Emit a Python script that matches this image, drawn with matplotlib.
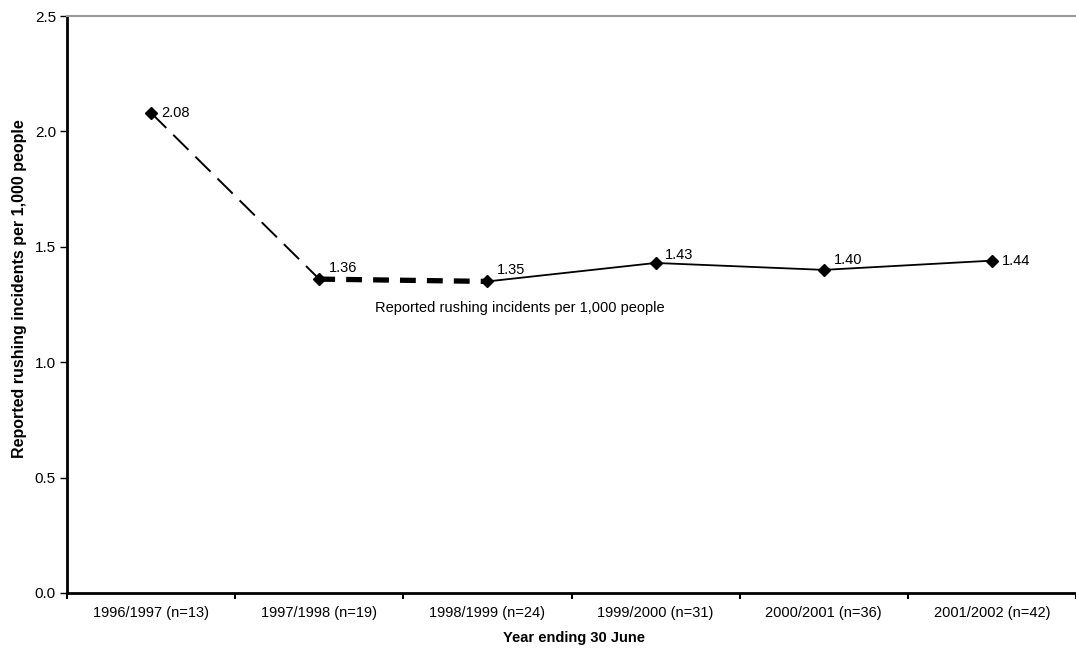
import matplotlib.pyplot as plt

plt.rcParams['font.family'] = ['Liberation Sans', 'DejaVu Sans']

years = ['1996/1997 (n=13)', '1997/1998 (n=19)', '1998/1999 (n=24)',
         '1999/2000 (n=31)', '2000/2001 (n=36)', '2001/2002 (n=42)']
rates = [2.08, 1.36, 1.35, 1.43, 1.40, 1.44]
rate_labels = ['2.08', '1.36', '1.35', '1.43', '1.40', '1.44']
series_name = 'Reported rushing incidents per 1,000 people'

# label offsets (points) for each value
label_offsets = [(7, 0), (7, 8), (7, 8), (7, 6), (7, 7), (7, 0)]

fig = plt.figure(figsize=(10.76, 6.5), dpi=100)
ax = fig.add_axes([67 / 1076, 57 / 650, (1076 - 67) / 1076, (593 - 16) / 650])

x = list(range(len(years)))

# segment styles as drawn in the original
ax.plot(x[0:2], rates[0:2], color='black', linewidth=1.4, dashes=(11, 5))
ax.plot(x[1:3], rates[1:3], color='black', linewidth=3.8, dashes=(3, 2.1))
ax.plot(x[2:], rates[2:], color='black', linewidth=1.3)
ax.plot(x, rates, linestyle='none', marker='D', markersize=6,
        color='black', zorder=3)

for xi, yi, lab, off in zip(x, rates, rate_labels, label_offsets):
    ax.annotate(lab, (xi, yi), xytext=off, textcoords='offset points',
                ha='left', va='center', fontsize=10.5)

ax.text(2.19, 1.235, series_name, ha='center', va='center', fontsize=10.5)

ax.set_ylim(0, 2.5)
ax.set_yticks([0, 0.5, 1.0, 1.5, 2.0, 2.5])
ax.set_yticklabels(['0.0', '0.5', '1.0', '1.5', '2.0', '2.5'], fontsize=11)
ax.set_xlim(-0.5, (1076 - 67) / 169.3 - 0.5)
ax.set_xticks([i + 0.5 for i in range(-1, len(years))])
ax.set_xticklabels([])
ax.set_xticks(x, minor=True)
ax.set_xticklabels(years, minor=True, fontsize=10.5)
ax.tick_params(axis='x', which='minor', length=0, pad=9)
ax.tick_params(axis='x', which='major', length=4, width=1.5, direction='out')
ax.tick_params(axis='y', length=5, width=1, direction='out', pad=3)

ax.spines['right'].set_visible(False)
ax.spines['top'].set_color('#999999')
ax.spines['top'].set_linewidth(1.5)
ax.spines['left'].set_linewidth(2)
ax.spines['bottom'].set_linewidth(2)

ax.set_xlabel('Year ending 30 June', fontsize=10.5, fontweight='bold')
ax.xaxis.set_label_coords(0.502, -0.065)
ax.set_ylabel(series_name, fontsize=11.5, fontweight='bold')
ax.yaxis.set_label_coords(-0.040, 0.527)

fig.savefig('out.png', dpi=100)
